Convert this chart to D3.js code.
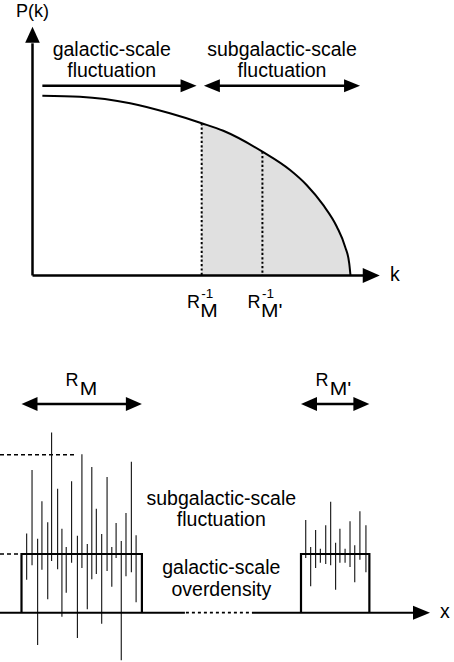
<!DOCTYPE html>
<html>
<head>
<meta charset="utf-8">
<script src="https://cdn.jsdelivr.net/npm/d3@7"></script>
<style>
  body { margin: 0; background: #fff; }
  text { font-family: Arial, "Liberation Sans", sans-serif; fill: #000; }
</style>
</head>
<body>
<div id="viz"></div>
<script>

// upper panel: power spectrum P(k)
var spectrumK = [0.31, 1.49, 3.07, 4.32, 5.32, 6.0, 7.23, 8.10, 8.62, 9.14, 9.57, 9.83, 9.96, 10];
var spectrumP = [9.99, 9.93, 9.57, 9.01, 8.46, 8.04, 6.88, 5.86, 5.03, 3.92, 2.71, 1.6, 0.68, 0];
var cutoffK = [5.32, 7.23];            // R_M^-1 and R_M'^-1
var cutoffSuffix = ["M", "M'"];

// lower panel: density along x
var boxLeft = [1.0, 14.0];
var boxRight = [6.6, 17.18];
var boxLevel = 1;

var leftSpikeX = [1.24, 1.49, 1.75, 1.95, 2.22, 2.40, 2.68, 2.88, 3.08, 3.33, 3.60, 3.81,
                  4.06, 4.27, 4.48, 4.73, 4.98, 5.20, 5.40, 5.64, 5.86, 6.11, 6.33];
var leftSpikeTop = [1.35, 2.43, 1.26, 1.90, 1.54, 3.07, 2.11, 1.43, 1.12, 2.24, 1.31, 2.70,
                    1.17, 2.48, 1.77, 1.34, 2.31, 1.12, 1.53, 1.22, 1.70, 2.57, 1.32];
var leftSpikeBottom = [0.56, 0.81, -0.55, 0.73, 0.23, 0.88, 0.74, -0.07, 0.34, 0.85, -0.43, 0.76,
                       0.06, 0.57, 0.66, -0.19, 0.71, 0.44, 0.93, -0.81, 0.62, 0.69, 0.18];

var rightSpikeX = [14.22, 14.45, 14.68, 14.90, 15.15, 15.38, 15.61, 15.81, 16.05, 16.28, 16.50, 16.74, 17.02];
var rightSpikeTop = [1.58, 1.12, 1.41, 1.09, 1.49, 1.89, 1.19, 1.43, 1.09, 1.56, 1.15, 1.73, 1.49];
var rightSpikeBottom = [0.93, 0.45, 0.76, 0.85, 0.83, 0.81, 0.39, 0.85, 0.85, 0.78, 0.52, 0.90, 0.69];

var peakLevel = 2.69;      // dashed level of the highest galactic-box spike
var gapStart = 8.6, gapEnd = 11.72;


var W = 454, H = 662;

var svg = d3.select("#viz")
    .append("svg")
    .attr("width", W)
    .attr("height", H);

function head(g, x, y, dir, len, half) {
  var p;
  if (dir == "right") p = [[x, y], [x - len, y - half], [x - len, y + half]];
  if (dir == "left")  p = [[x, y], [x + len, y - half], [x + len, y + half]];
  if (dir == "up")    p = [[x, y], [x - half, y + len], [x + half, y + len]];
  g.append("path")
      .attr("d", "M" + p.map(function(d){ return d.join(","); }).join("L") + "Z")
      .attr("fill", "#000");
}

// wider subscript M as in the original lettering
function subLen(s) { return s == "M" ? 17.5 : 21.5; }

// ---------- upper panel ----------
var k = d3.scaleLinear().domain([0, 10]).range([32.5, 350.5]);
var P = d3.scaleLinear().domain([0, 10]).range([275.5, 95.5]);

var upper = svg.append("g");

var spectrum = spectrumK.map(function(d, i){ return {k: d, p: spectrumP[i]}; });

upper.append("path")
    .datum(spectrum.filter(function(d){ return d.k >= cutoffK[0]; }))
    .attr("d", d3.area()
        .x(function(d){ return k(d.k); })
        .y0(P(0))
        .y1(function(d){ return P(d.p); })
        .curve(d3.curveMonotoneX))
    .attr("fill", "#e0e0e0");

cutoffK.forEach(function(c){
  var i = spectrumK.indexOf(c);
  upper.append("line")
      .attr("x1", k(c)).attr("x2", k(c))
      .attr("y1", P(spectrumP[i])).attr("y2", P(0))
      .attr("stroke", "#000")
      .attr("stroke-width", 2)
      .attr("stroke-dasharray", "2.2,2.2");
});

upper.append("path")
    .datum(spectrum)
    .attr("d", d3.line()
        .x(function(d){ return k(d.k); })
        .y(function(d){ return P(d.p); })
        .curve(d3.curveMonotoneX))
    .attr("fill", "none")
    .attr("stroke", "#000")
    .attr("stroke-width", 2);

// axes
upper.append("line")
    .attr("x1", k(0)).attr("x2", k(10.4))
    .attr("y1", P(0)).attr("y2", P(0))
    .attr("stroke", "#000").attr("stroke-width", 2.5);
head(upper, k(10.92), P(0), "right", 17, 7.5);

upper.append("line")
    .attr("x1", k(0)).attr("x2", k(0))
    .attr("y1", P(0)).attr("y2", P(12.9))
    .attr("stroke", "#000").attr("stroke-width", 2.5);
head(upper, k(0), P(13.82), "up", 16, 7.3);

upper.append("text").attr("x", 16).attr("y", 16.5)
    .style("font-size", "18px").text("P(k)");
upper.append("text").attr("x", 390).attr("y", 281)
    .style("font-size", "19.5px").text("k");

// scale arrows
var arrowP = 10.54;
upper.append("line")
    .attr("x1", k(0.31)).attr("x2", k(4.7))
    .attr("y1", P(arrowP)).attr("y2", P(arrowP))
    .attr("stroke", "#000").attr("stroke-width", 2.5);
head(upper, k(5.16), P(arrowP), "right", 16, 6.5);

upper.append("line")
    .attr("x1", k(5.8)).attr("x2", k(9.9))
    .attr("y1", P(arrowP)).attr("y2", P(arrowP))
    .attr("stroke", "#000").attr("stroke-width", 2.5);
head(upper, k(5.39), P(arrowP), "left", 16, 6.5);
head(upper, k(10.3), P(arrowP), "right", 16, 6.5);

[["galactic-scale", "fluctuation", 111.7], ["subgalactic-scale", "fluctuation", 282]].forEach(function(t){
  upper.append("text").attr("x", t[2]).attr("y", 56)
      .attr("text-anchor", "middle").style("font-size", "19.5px").text(t[0]);
  upper.append("text").attr("x", t[2]).attr("y", 76.5)
      .attr("text-anchor", "middle").style("font-size", "19.5px").text(t[1]);
});

// R^-1 tick labels, one text each with stacked super/subscript
cutoffK.forEach(function(c, i){
  var x = k(c);
  var t = upper.append("text").style("font-size", "18px");
  t.append("tspan").attr("x", x - 14.8).attr("y", 307.7).text("R");
  t.append("tspan").attr("x", x - 0.5).attr("y", 298)
      .style("font-size", "13.5px").text("-1");
  t.append("tspan").attr("x", x - 1.5).attr("y", 317.3)
      .style("font-size", "18px")
      .attr("textLength", subLen(cutoffSuffix[i]))
      .attr("lengthAdjust", "spacingAndGlyphs")
      .text(cutoffSuffix[i]);
});

// ---------- lower panel ----------
var xb = d3.scaleLinear().domain([0, 20]).range([0, 430]);
var rho = d3.scaleLinear().domain([0, 1]).range([612.7, 554]);

var lower = svg.append("g");

// dashed reference levels
lower.append("line")
    .attr("x1", xb(0)).attr("x2", xb(3.58))
    .attr("y1", rho(peakLevel)).attr("y2", rho(peakLevel))
    .attr("stroke", "#000").attr("stroke-width", 1.5)
    .attr("stroke-dasharray", "4,3");
lower.append("line")
    .attr("x1", xb(0)).attr("x2", xb(boxLeft[0]) - 2)
    .attr("y1", rho(boxLevel)).attr("y2", rho(boxLevel))
    .attr("stroke", "#000").attr("stroke-width", 1.5)
    .attr("stroke-dasharray", "4,3");

// spikes
function spikes(xs, tops, bots) {
  lower.selectAll(null)
      .data(xs)
      .enter()
      .append("line")
      .attr("x1", function(d){ return xb(d); })
      .attr("x2", function(d){ return xb(d); })
      .attr("y1", function(d, i){ return rho(tops[i]); })
      .attr("y2", function(d, i){ return rho(bots[i]); })
      .attr("stroke", "#111")
      .attr("stroke-width", 1.1);
}
spikes(leftSpikeX, leftSpikeTop, leftSpikeBottom);
spikes(rightSpikeX, rightSpikeTop, rightSpikeBottom);

// boxes
boxLeft.forEach(function(b, i){
  lower.append("path")
      .attr("d", "M" + xb(b) + "," + rho(0) + "V" + rho(boxLevel) +
                 "H" + xb(boxRight[i]) + "V" + rho(0))
      .attr("fill", "none")
      .attr("stroke", "#000")
      .attr("stroke-width", 2.2);
});

// x axis with a dotted gap
lower.append("line")
    .attr("x1", xb(0)).attr("x2", xb(gapStart))
    .attr("y1", rho(0)).attr("y2", rho(0))
    .attr("stroke", "#000").attr("stroke-width", 2);
lower.append("line")
    .attr("x1", xb(gapStart) + 1).attr("x2", xb(gapEnd))
    .attr("y1", rho(0)).attr("y2", rho(0))
    .attr("stroke", "#000").attr("stroke-width", 1.8)
    .attr("stroke-dasharray", "3,3");
lower.append("line")
    .attr("x1", xb(gapEnd)).attr("x2", xb(19.4))
    .attr("y1", rho(0)).attr("y2", rho(0))
    .attr("stroke", "#000").attr("stroke-width", 2);
head(lower, xb(20), rho(0), "right", 17, 7);
lower.append("text").attr("x", 440).attr("y", 618.3)
    .style("font-size", "19.5px").text("x");

// size arrows R_M, R_M'
var sizeY = 404;
boxLeft.forEach(function(b, i){
  var x0 = xb(b), x1 = xb(boxRight[i]);
  lower.append("line")
      .attr("x1", x0 + 10).attr("x2", x1 - 10)
      .attr("y1", sizeY).attr("y2", sizeY)
      .attr("stroke", "#000").attr("stroke-width", 2.5);
  head(lower, x0, sizeY, "left", 16, 7);
  head(lower, x1, sizeY, "right", 16, 7);
});

[[65.5, "M"], [315.5, "M'"]].forEach(function(r){
  var t = lower.append("text").style("font-size", "18px");
  t.append("tspan").attr("x", r[0]).attr("y", 386).text("R");
  t.append("tspan").attr("x", r[0] + 14.3).attr("y", 395.3)
      .style("font-size", "18.5px")
      .attr("textLength", subLen(r[1]))
      .attr("lengthAdjust", "spacingAndGlyphs")
      .text(r[1]);
});

// annotations
[["subgalactic-scale", 504.5], ["fluctuation", 525.5],
 ["galactic-scale", 574], ["overdensity", 596]].forEach(function(t){
  lower.append("text").attr("x", 221.3).attr("y", t[1])
      .attr("text-anchor", "middle").style("font-size", "19.5px").text(t[0]);
});

</script>
</body>
</html>
